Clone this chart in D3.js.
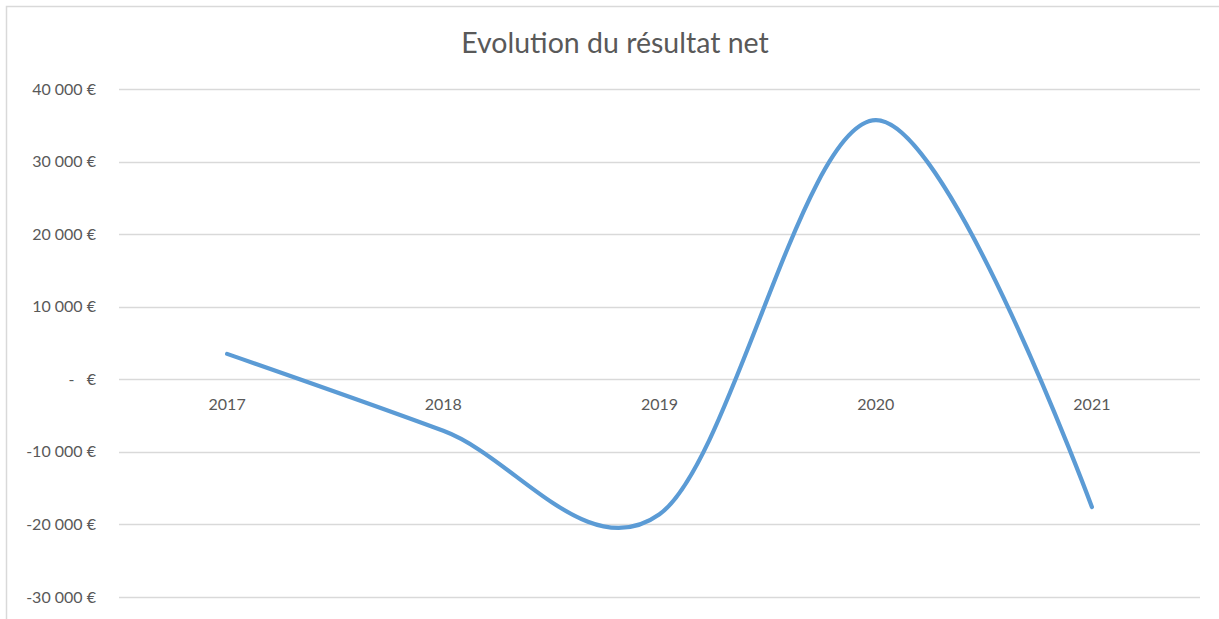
<!DOCTYPE html>
<html>
<head>
<meta charset="utf-8">
<script src="https://cdn.jsdelivr.net/npm/d3@7"></script>
<style>
  body { margin: 0; background: #fff; }
  text { font-family: Lato, "Open Sans", sans-serif; fill: #595959; }
</style>
</head>
<body>
<script>
// data
var years = ['2017', '2018', '2019', '2020', '2021'];
var resultat = [3500, -7100, -18600, 35700, -17600];
var yTicks = [-30000, -20000, -10000, 0, 10000, 20000, 30000, 40000];

var width = 1219,
  height = 619;
var margin = {
  top: 89,
  bottom: 22,
  left: 119,
  right: 19
};

var svg = d3.select('body')
  .append('svg')
  .attr('width', width)
  .attr('height', height)
  .style('background', '#fff');

// chart border (right/bottom edges are outside the picture)
svg.append('rect')
  .attr('x', 6.5)
  .attr('y', 6.5)
  .attr('width', width + 10)
  .attr('height', height + 10)
  .attr('fill', 'none')
  .attr('stroke', '#d9d9d9')
  .attr('stroke-width', 1.5);

// scales
var xScale = d3.scaleBand()
  .domain(years)
  .range([margin.left, width - margin.right]);

var yScale = d3.scaleLinear()
  .domain([-30000, 40000])
  .range([height - margin.bottom, margin.top]);

function fmt(v) {
  if (v === 0) return '-   €';
  return d3.format(',')(v).replace(/,/g, ' ').replace('\u2212', '-') + ' €';
}

// gridlines
svg.append('g')
  .selectAll('line')
  .data(yTicks)
  .enter()
  .append('line')
  .attr('x1', margin.left)
  .attr('x2', width - margin.right)
  .attr('y1', function(d) { return Math.round(yScale(d)) + 0.5; })
  .attr('y2', function(d) { return Math.round(yScale(d)) + 0.5; })
  .attr('stroke', '#d9d9d9')
  .attr('stroke-width', 1.3);

// y axis labels
var yAxis = svg.append('g')
  .attr('transform', 'translate(96,0)')
  .call(d3.axisLeft(yScale).tickValues(yTicks).tickFormat(fmt).tickSize(0).tickPadding(0));
yAxis.select('.domain').remove();
yAxis.selectAll('text')
  .style('font-size', '16px')
  .style('fill', '#595959')
  .style('white-space', 'pre')
  .attr('xml:space', 'preserve');

// x axis labels sit on the zero line
var xAxis = svg.append('g')
  .attr('transform', 'translate(0,' + yScale(0) + ')')
  .call(d3.axisBottom(xScale).tickSize(0).tickPadding(19));
xAxis.select('.domain').remove();
xAxis.selectAll('text')
  .style('font-size', '16px')
  .style('fill', '#595959');

// line
var line = d3.line()
  .x(function(d, i) { return xScale(years[i]) + xScale.bandwidth() / 2; })
  .y(function(d) { return yScale(d); })
  .curve(d3.curveCatmullRom.alpha(0));

svg.append('path')
  .datum(resultat)
  .attr('d', line)
  .attr('fill', 'none')
  .attr('stroke', '#5b9bd5')
  .attr('stroke-width', 4.2)
  .attr('stroke-linecap', 'round');

// title
svg.append('text')
  .attr('x', 615)
  .attr('y', 53)
  .attr('text-anchor', 'middle')
  .style('font-size', '28.5px')
  .style('fill', '#595959')
  .text('Evolution du résultat net');
</script>
</body>
</html>
